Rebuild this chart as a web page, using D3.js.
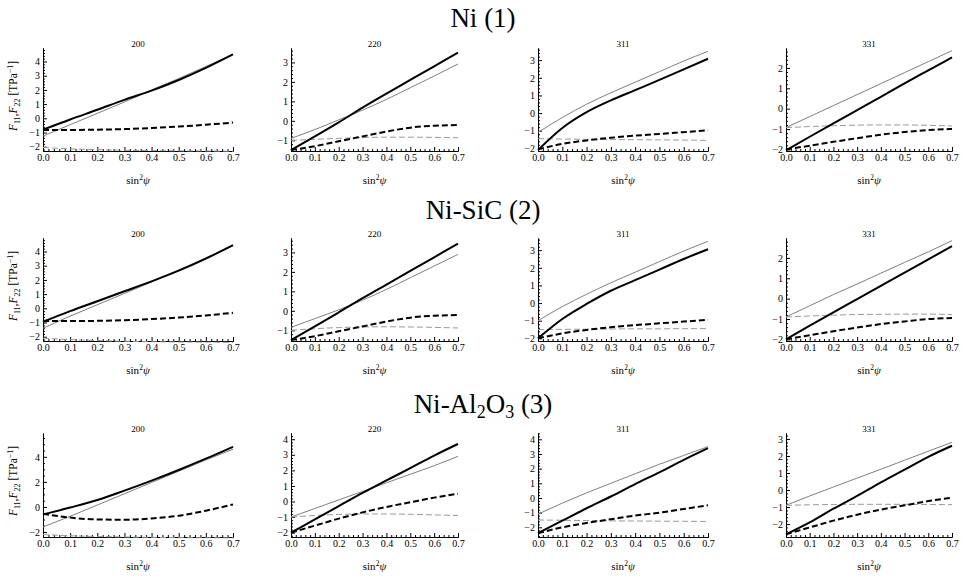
<!DOCTYPE html>
<html lang='en'>
	<head>
		<meta charset='UTF-8'>
		<title>F11, F22 vs sin2psi</title>
		<style>
			body { margin: 0; background: #fff; }
			text { font-family: 'Liberation Serif', 'Times New Roman', Times, serif; }
		</style>
	</head>
	<body>
		<svg id='graph' width='961' height='578'></svg>

		<script src='https://d3js.org/d3.v7.min.js'></script>
		<script>
			// sin^2(psi) sample points shared by every curve
			const sinPsi = [0, 0.1, 0.2, 0.3, 0.4, 0.5, 0.6, 0.7];
			const reflections = ['200', '220', '311', '331'];
			const materials = ['Ni (1)', 'Ni-SiC (2)', 'Ni-Al2O3 (3)'];

			// a = thick black, b = thin gray; F11 solid, F22 dashed
			// Ni
			const ni200_f11a = [-0.8, -0.08, 0.6, 1.3, 1.95, 2.7, 3.55, 4.5];
			const ni200_f11b = [-1.25, -0.45, 0.35, 1.15, 2.0, 2.8, 3.65, 4.5];
			const ni200_f22a = [-0.82, -0.82, -0.8, -0.76, -0.68, -0.58, -0.45, -0.3];
			const ni200_f22b = [-2.05, -2.15, -2.2, -2.25, -2.27, -2.29, -2.3, -2.32];
			const ni220_f11a = [-1.5, -0.8, -0.08, 0.68, 1.4, 2.1, 2.8, 3.5];
			const ni220_f11b = [-0.9, -0.45, 0.05, 0.55, 1.1, 1.7, 2.3, 2.92];
			const ni220_f22a = [-1.5, -1.3, -1.05, -0.8, -0.55, -0.35, -0.25, -0.22];
			const ni220_f22b = [-1.0, -0.95, -0.9, -0.86, -0.84, -0.84, -0.85, -0.87];
			const ni311_f11a = [-2.1, -0.85, 0.05, 0.72, 1.3, 1.88, 2.48, 3.08];
			const ni311_f11b = [-1.1, -0.25, 0.5, 1.15, 1.75, 2.35, 2.95, 3.5];
			const ni311_f22a = [-2.05, -1.75, -1.55, -1.4, -1.28, -1.18, -1.08, -0.98];
			const ni311_f22b = [-1.45, -1.47, -1.49, -1.5, -1.51, -1.52, -1.53, -1.55];
			const ni331_f11a = [-2.05, -1.38, -0.72, -0.07, 0.58, 1.24, 1.88, 2.52];
			const ni331_f11b = [-0.93, -0.39, 0.15, 0.69, 1.23, 1.77, 2.31, 2.85];
			const ni331_f22a = [-2.0, -1.82, -1.63, -1.45, -1.28, -1.15, -1.05, -1.0];
			const ni331_f22b = [-0.93, -0.88, -0.84, -0.81, -0.8, -0.8, -0.82, -0.85];
			// Ni-SiC
			const sic200_f11a = [-0.95, -0.2, 0.5, 1.2, 1.9, 2.65, 3.5, 4.45];
			const sic200_f11b = [-1.4, -0.55, 0.25, 1.05, 1.85, 2.7, 3.55, 4.4];
			const sic200_f22a = [-0.9, -0.9, -0.88, -0.84, -0.76, -0.65, -0.5, -0.32];
			const sic200_f22b = [-2.1, -2.2, -2.27, -2.32, -2.35, -2.37, -2.38, -2.4];
			const sic220_f11a = [-1.5, -0.8, -0.08, 0.65, 1.35, 2.05, 2.75, 3.45];
			const sic220_f11b = [-0.85, -0.4, 0.05, 0.55, 1.1, 1.7, 2.3, 2.9];
			const sic220_f22a = [-1.5, -1.3, -1.05, -0.8, -0.55, -0.35, -0.25, -0.22];
			const sic220_f22b = [-1.0, -0.92, -0.86, -0.83, -0.82, -0.83, -0.85, -0.88];
			const sic311_f11a = [-2.0, -0.9, -0.05, 0.7, 1.3, 1.9, 2.5, 3.05];
			const sic311_f11b = [-1.0, -0.2, 0.5, 1.15, 1.75, 2.35, 2.95, 3.5];
			const sic311_f22a = [-2.0, -1.72, -1.52, -1.37, -1.25, -1.15, -1.05, -0.95];
			const sic311_f22b = [-1.5, -1.49, -1.48, -1.47, -1.46, -1.46, -1.45, -1.45];
			const sic331_f11a = [-2.0, -1.33, -0.67, -0.02, 0.63, 1.28, 1.93, 2.58];
			const sic331_f11b = [-0.9, -0.35, 0.2, 0.72, 1.25, 1.78, 2.3, 2.85];
			const sic331_f22a = [-2.0, -1.8, -1.6, -1.42, -1.25, -1.12, -1.0, -0.95];
			const sic331_f22b = [-0.9, -0.85, -0.81, -0.78, -0.77, -0.76, -0.76, -0.78];
			// Ni-Al2O3
			const alo200_f11a = [-0.6, -0.05, 0.55, 1.3, 2.1, 2.95, 3.85, 4.8];
			const alo200_f11b = [-1.6, -0.75, 0.15, 1.05, 1.95, 2.85, 3.75, 4.6];
			const alo200_f22a = [-0.55, -0.85, -1.0, -1.02, -0.92, -0.7, -0.3, 0.2];
			const alo200_f22b = [-2.2, -2.3, -2.36, -2.4, -2.43, -2.45, -2.46, -2.47];
			const alo220_f11a = [-2.0, -1.15, -0.3, 0.55, 1.35, 2.15, 2.95, 3.7];
			const alo220_f11b = [-1.0, -0.45, 0.1, 0.65, 1.2, 1.75, 2.3, 2.9];
			const alo220_f22a = [-2.0, -1.55, -1.1, -0.7, -0.35, -0.05, 0.25, 0.5];
			const alo220_f22b = [-1.0, -0.9, -0.83, -0.8, -0.8, -0.82, -0.86, -0.9];
			const alo311_f11a = [-2.4, -1.55, -0.7, 0.1, 0.95, 1.75, 2.6, 3.4];
			const alo311_f11b = [-1.1, -0.35, 0.35, 1.0, 1.65, 2.3, 2.9, 3.5];
			const alo311_f22a = [-2.4, -2.0, -1.7, -1.45, -1.2, -1.0, -0.75, -0.5];
			const alo311_f22b = [-1.5, -1.52, -1.54, -1.56, -1.57, -1.58, -1.59, -1.6];
			const alo331_f11a = [-2.6, -1.9, -1.1, -0.35, 0.45, 1.2, 1.95, 2.6];
			const alo331_f11b = [-0.9, -0.35, 0.18, 0.7, 1.22, 1.75, 2.28, 2.8];
			const alo331_f22a = [-2.6, -2.2, -1.8, -1.45, -1.15, -0.9, -0.65, -0.45];
			const alo331_f22b = [-0.9, -0.87, -0.85, -0.84, -0.84, -0.84, -0.85, -0.86];

			// y axis ranges and major tick step per panel [row][col]
			const yRanges = [
				[[-2.3, 4.95], [-1.55, 3.74], [-2.15, 3.69], [-2.08, 2.98]],
				[[-2.3, 4.95], [-1.55, 3.74], [-2.15, 3.69], [-2.08, 2.98]],
				[[-2.4, 5.9], [-2.28, 4.4], [-2.66, 4.43], [-2.76, 3.35]]
			];
			const yStep = [[1, 1, 1, 1], [1, 1, 1, 1], [2, 1, 1, 1]];

			const curves = [
				[[ni200_f11a, ni200_f11b, ni200_f22a, ni200_f22b], [ni220_f11a, ni220_f11b, ni220_f22a, ni220_f22b],
				 [ni311_f11a, ni311_f11b, ni311_f22a, ni311_f22b], [ni331_f11a, ni331_f11b, ni331_f22a, ni331_f22b]],
				[[sic200_f11a, sic200_f11b, sic200_f22a, sic200_f22b], [sic220_f11a, sic220_f11b, sic220_f22a, sic220_f22b],
				 [sic311_f11a, sic311_f11b, sic311_f22a, sic311_f22b], [sic331_f11a, sic331_f11b, sic331_f22a, sic331_f22b]],
				[[alo200_f11a, alo200_f11b, alo200_f22a, alo200_f22b], [alo220_f11a, alo220_f11b, alo220_f22a, alo220_f22b],
				 [alo311_f11a, alo311_f11b, alo311_f22a, alo311_f22b], [alo331_f11a, alo331_f11b, alo331_f22a, alo331_f22b]]
			];

			// thick black solid, thin gray solid, thick black dashed, thin gray dashed
			const styles = [
				{ stroke: '#000', width: 2, dash: null },
				{ stroke: '#7f7f7f', width: 1, dash: null },
				{ stroke: '#000', width: 2, dash: '6,3' },
				{ stroke: '#9a9a9a', width: 1, dash: '6,3' }
			];

			const colLeft = [43, 291, 538, 786];
			const colRight = [233, 458, 708, 952];
			const rowTop = [48, 238, 433];
			const rowBottom = [151, 341, 537];
			const titleY = [27, 219, 413];
			const font = 'Liberation Serif';

			const svg = d3.select('#graph');

			materials.forEach((mat, r) => {
				const t = svg.append('text')
					.attr('x', 483).attr('y', titleY[r])
					.attr('text-anchor', 'middle')
					.attr('font-size', 27);
				if (r === 2) {
					t.append('tspan').text('Ni-Al');
					t.append('tspan').attr('font-size', 18).attr('dy', 5).text('2');
					t.append('tspan').attr('dy', -5).text('O');
					t.append('tspan').attr('font-size', 18).attr('dy', 5).text('3');
					t.append('tspan').attr('dy', -5).text('\u00a0(3)');
				} else {
					t.text(mat.replace(' ', '\u00a0'));
				}

				reflections.forEach((refl, c) => {
					const x = d3.scaleLinear().domain([0, 0.7]).range([colLeft[c], colRight[c]]);
					const y = d3.scaleLinear().domain(yRanges[r][c]).range([rowBottom[r], rowTop[r]]);
					const g = svg.append('g');

					const step = yStep[r][c];
					const [y0, y1] = yRanges[r][c];
					const major = d3.range(Math.ceil(y0 / step) * step, y1 + 1e-9, step);
					const minorStep = step === 2 ? 0.5 : 0.2;
					const minor = d3.range(Math.ceil(y0 / minorStep) * minorStep, y1, minorStep)
						.filter((v) => Math.abs(v / step - Math.round(v / step)) > 1e-6);

					// y axis
					g.append('g')
						.attr('transform', `translate(${colLeft[c]},0)`)
						.call(d3.axisLeft(y).tickValues(minor).tickFormat('').tickSizeInner(-2).tickSizeOuter(0));
					g.append('g')
						.attr('transform', `translate(${colLeft[c]},0)`)
						.call(d3.axisLeft(y).tickValues(major).tickFormat(d3.format('d')).tickSizeInner(-4).tickSizeOuter(0).tickPadding(3))
						.call((a) => a.selectAll('text').attr('font-size', 10).attr('font-family', font));

					// x axis
					const xMinor = d3.range(0.02, 0.7, 0.02).filter((v) => Math.abs(v * 10 - Math.round(v * 10)) > 1e-6);
					g.append('g')
						.attr('transform', `translate(0,${rowBottom[r]})`)
						.call(d3.axisBottom(x).tickValues(xMinor).tickFormat('').tickSizeInner(-2).tickSizeOuter(0));
					g.append('g')
						.attr('transform', `translate(0,${rowBottom[r]})`)
						.call(d3.axisBottom(x).tickValues(sinPsi).tickFormat(d3.format('.1f')).tickSizeInner(-4).tickSizeOuter(0).tickPadding(3))
						.call((a) => a.selectAll('text').attr('font-size', 10).attr('font-family', font));
					g.selectAll('.domain').attr('stroke', '#000');

					const line = d3.line()
						.x((d, i) => x(sinPsi[i]))
						.y((d) => y(d))
						.curve(d3.curveMonotoneX);

					[1, 3, 2, 0].forEach((k) => {
						g.append('path')
							.datum(curves[r][c][k])
							.attr('d', line)
							.attr('fill', 'none')
							.attr('stroke', styles[k].stroke)
							.attr('stroke-width', styles[k].width)
							.attr('stroke-dasharray', styles[k].dash);
					});

					const cx = (colLeft[c] + colRight[c]) / 2;
					g.append('text')
						.attr('x', cx).attr('y', rowTop[r] - 1)
						.attr('text-anchor', 'middle')
						.attr('font-size', 9)
						.text(refl);

					const xl = g.append('text')
						.attr('x', cx).attr('y', rowBottom[r] + 33)
						.attr('text-anchor', 'middle')
						.attr('font-size', 11);
					xl.append('tspan').text('sin');
					xl.append('tspan').attr('font-size', 7.5).attr('dy', -4).text('2');
					xl.append('tspan').attr('dy', 4).attr('font-style', 'italic').text('ψ');

					if (c === 0) {
						const yl = g.append('text')
							.attr('transform', `translate(17,${rowTop[r] + 48}) rotate(-90)`)
							.attr('text-anchor', 'middle')
							.attr('font-size', 11.5);
						yl.append('tspan').attr('font-style', 'italic').text('F');
						yl.append('tspan').attr('font-size', 8).attr('dy', 3).text('11');
						yl.append('tspan').attr('dy', -3).text(',');
						yl.append('tspan').attr('font-style', 'italic').text('F');
						yl.append('tspan').attr('font-size', 8).attr('dy', 3).text('22');
						yl.append('tspan').attr('dy', -3).text('\u00a0[TPa');
						yl.append('tspan').attr('font-size', 8).attr('dy', -4).text('−1');
						yl.append('tspan').attr('dy', 4).text(']');
					}
				});
			});
		</script>
	</body>
</html>
